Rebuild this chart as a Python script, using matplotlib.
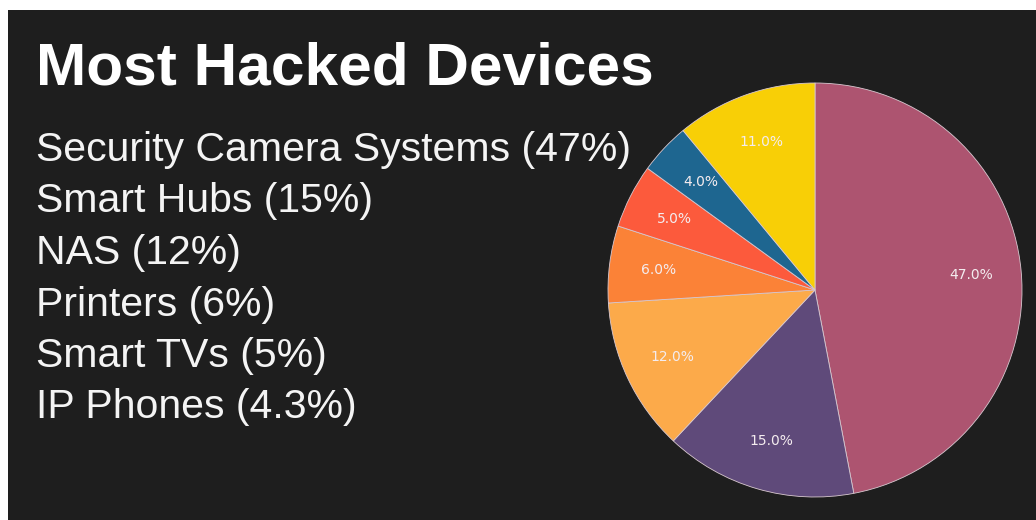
import matplotlib.pyplot as plt
from matplotlib.patches import Rectangle

#%% DATA
title = "Most Hacked Devices"
list_items = ["Security Camera Systems (47%)",
              "Smart Hubs (15%)",
              "NAS (12%)",
              "Printers (6%)",
              "Smart TVs (5%)",
              "IP Phones (4.3%)"]
shares = [47, 15, 12, 6, 5, 4, 11]
colors = ["#ad5470", "#5f4a7a", "#fcaa4a", "#fb8237",
          "#fc5a3c", "#1e6690", "#f8cf06"]

#%% FIGURE
W, H = 1036, 520
fig = plt.figure(figsize=(W/100, H/100), dpi=100)
fig.patch.set_facecolor("white")
fig.patches.append(Rectangle((8/W, 0), 1 - 8/W, 1 - 10/H, transform=fig.transFigure,
                             facecolor="#1e1e1e", edgecolor="none", zorder=-10))

# Title and list
fig.text(36/W, 1 - 69/H, title, color="white", fontsize=43.5, fontweight="bold",
         family="Liberation Sans", va="center", ha="left")
for i, item in enumerate(list_items):
    fig.text(36/W, 1 - (150 + 51.5*i)/H, item, color="#f4f4f4", fontsize=29.5,
             family="Liberation Sans", va="center", ha="left")

# Pie
cx, cy, r = 815, 290, 207
ax = fig.add_axes([(cx - r)/W, (H - cy - r)/H, 2*r/W, 2*r/H])
ax.set_zorder(5)
wedges, texts, autotexts = ax.pie(shares, colors=colors, startangle=90, counterclock=False,
                                  autopct="%1.1f%%", pctdistance=0.76,
                                  wedgeprops=dict(edgecolor="#d8c8d0", linewidth=0.6))
for t in autotexts:
    t.set_color("#f4ecef")
    t.set_fontsize(10)
ax.set_xlim(-1, 1)
ax.set_ylim(-1, 1)
ax.axis("off")

fig.savefig("out.png", dpi=100, facecolor=fig.get_facecolor())
